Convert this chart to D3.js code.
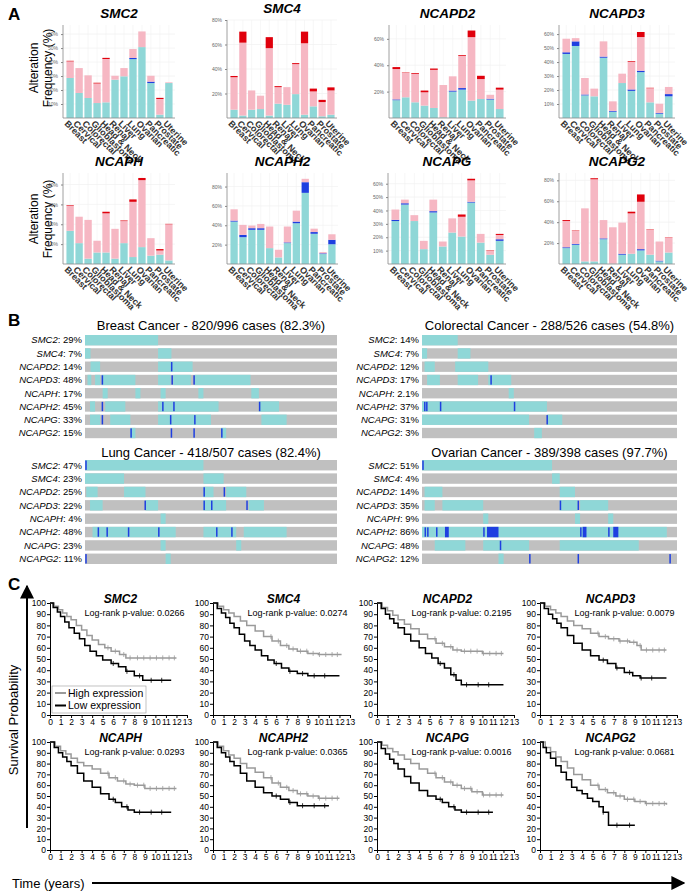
<!DOCTYPE html>
<html><head><meta charset="utf-8">
<script src="https://cdn.jsdelivr.net/npm/d3@7"></script>
<style>body{margin:0;background:#fff}svg{font-family:Arial,"Liberation Sans",sans-serif}</style>
</head><body><svg id="c" width="691" height="895"></svg>
<script>
// ---------------- DATA ----------------
const cancers = ["Breast","Cervical","Colorectal","Glioblastoma","Head & Neck","Renal","Liver","Lung","Ovarian","Pancreatic","Prostate","Uterine"];
const altTypes = ["mRNA Low","Deep Deletion","mRNA High","Amplification"];
// segment heights per cancer: [cyan, blue, pink, red] (%)
const altSMC2   = [[28.6,0,11.9,0.4],[17.9,0,17.8,0],[14.3,0,16.2,0],[10.7,0,14.0,0.5],[11.2,0,31.0,0.8],[27.4,0,2.8,0],[29.8,0,5.9,0],[42.1,0.8,6.4,0],[50.7,0,11.2,0],[25,1,4.2,0],[2.4,0,11.2,0.8],[25,0,0.5,0]];
const altSMC4   = [[6.8,0,26.5,1],[2,0,59.5,9],[6.8,0,15.7,0],[7.3,0,10.9,0],[2,0,55,9],[11.7,0,13.5,0.8],[10.8,0,14.4,0],[19.5,0,24.5,0.8],[2.7,0,58.3,9.5],[9.5,0,12.2,2.3],[1.4,0,11.6,1.8],[2.7,0,19.8,2.5]];
const altNCAPD2 = [[13.5,0.6,23,1.5],[15.7,0,18.5,0.3],[11.9,0,21.5,0.6],[9.4,0,10.1,1.3],[7.6,0,28.9,1],[0.5,0,24.5,0],[20,0.8,10.8,0],[21.5,1.2,24.3,0.6],[13.2,0,48.1,5],[14.4,0,15.1,2.5],[14,0.6,3,0],[6.8,0,14.7,1.5]];
const altNCAPD3 = [[45.8,1.2,9.7,0],[51.5,3.3,2.3,0],[16.2,0.6,11.8,0],[15.5,0,5.5,0],[43.1,0.8,10.9,0],[4.5,0.6,6.8,0],[25,0,6.7,0],[19.4,1,19.7,0.5],[32.8,1,24.1,3.6],[11.2,0,10.1,0.3],[3.1,0.5,6.6,0],[15.5,1.6,5.1,0]];
const altNCAPH  = [[16.7,0,12.6,0.3],[10.5,0,13.3,0],[2.7,0,19.5,0],[5.8,0,5.9,0],[5.8,0,19.7,0.8],[2.7,0,15,0],[10.5,0,11.1,0.3],[3.5,0,27.8,1.2],[8.5,0,33.7,1.1],[4.2,0,8.8,0],[4.7,0,2.1,0.7],[1.8,0,18.2,0.2]];
const altNCAPH2 = [[43.8,1,11.7,0],[27.7,2.4,10.3,0],[35.3,1.7,2.7,0],[35.3,1.7,4.4,0],[16.4,0,22.3,0],[6.8,0,7.9,0],[21.6,0.7,16.4,0],[42.1,1.7,11.3,0],[73.5,11,3.5,0],[31.2,1.8,3.5,0],[10.3,0.7,1.3,0],[20.4,4.6,5.7,0]];
const altNCAPG  = [[32.1,0.9,7.7,0],[44.4,1,2.7,0],[32.1,0,4.4,0],[11.1,0,6.2,0],[38.5,1,8.6,0],[13.1,0,3.7,0],[23.5,0,10.6,0],[20.5,0,14.8,1.7],[45.9,0.6,16,1.2],[16,0,6.5,0],[6.9,0,3,0.3],[17.3,1.2,3.2,0.8]];
const altNCAPG2 = [[15.2,0.8,25.1,0.9],[18.4,0.8,12.4,0.4],[2.5,0,50.7,0],[2.5,0,78.5,1],[23.7,0.8,17.5,0],[0.3,0,34.8,0],[8.9,0.9,29.8,0],[9.8,0,38.6,1.6],[13,1.2,45.3,7],[8.9,0,23.7,0.4],[2.5,0.7,18.3,0],[11,0,14.3,0.3]];

// Oncoprint: per-gene pct, cyan segments & blue marks (fraction of cases)
const oncoGenes = ["SMC2","SMC4","NCAPD2","NCAPD3","NCAPH","NCAPH2","NCAPG","NCAPG2"];
const breastPct = ["29%","7%","14%","48%","17%","45%","33%","15%"];
const breastCyan = [[[0,0.29]],[[0,0.022],[0.29,0.343]],[[0.022,0.06],[0.29,0.427]],[[0.01,0.025],[0.04,0.06],[0.066,0.2],[0.29,0.34],[0.35,0.42],[0.436,0.657]],[[0.07,0.09],[0.2,0.22],[0.3,0.32],[0.45,0.47],[0.66,0.69]],[[0.02,0.04],[0.08,0.16],[0.29,0.53],[0.69,0.77]],[[0.02,0.06],[0.1,0.18],[0.29,0.5],[0.7,0.8]],[[0.18,0.2],[0.54,0.56]]];
const breastBlue = [[],[],[0.341],[0.066,0.343,0.43],[],[0.066,0.306,0.35,0.69],[0.066,0.337,0.433],[0.18,0.34,0.43,0.54]];
const crcPct = ["14%","7%","12%","17%","2.1%","37%","31%","3%"];
const crcCyan = [[[0,0.14]],[[0,0.02],[0.14,0.19]],[[0.01,0.05],[0.13,0.26]],[[0.02,0.07],[0.14,0.22],[0.26,0.35]],[[0.34,0.36]],[[0,0.49]],[[0,0.42],[0.49,0.55]],[[0.44,0.47]]];
const crcBlue = [[],[],[],[0.268],[],[0.008,0.016,0.07,0.36],[0.488],[]];
const lungPct = ["47%","23%","25%","22%","4%","48%","23%","11%"];
const lungCyan = [[[0,0.47]],[[0,0.155],[0.47,0.55]],[[0.005,0.05],[0.155,0.24],[0.47,0.51],[0.56,0.64]],[[0.02,0.07],[0.24,0.29],[0.47,0.56],[0.65,0.71]],[[0.3,0.32]],[[0.03,0.36],[0.47,0.6],[0.63,0.8]],[[0.3,0.32],[0.6,0.62]],[[0.32,0.34]]];
const lungBlue = [[0.001],[],[0.47,0.55],[0.236,0.47,0.5,0.64],[],[0.05,0.085,0.17,0.29,0.52,0.58],[],[0.001]];
const ovPct = ["51%","4%","14%","35%","9%","86%","48%","12%"];
const ovCyan = [[[0,0.51]],[[0.51,0.54]],[[0.01,0.08],[0.54,0.6]],[[0.01,0.05],[0.08,0.24],[0.54,0.61],[0.62,0.73]],[[0.24,0.26],[0.6,0.62],[0.73,0.75]],[[0,0.96]],[[0.05,0.17],[0.24,0.42],[0.54,0.85]],[[0.3,0.32]]];
const ovBlue = [[0.001],[],[],[0.54,0.61],[],[0.01,0.02,0.055,[0.09,0.105],0.24,[0.255,0.3],0.62,[0.63,0.645],0.73,[0.75,0.77]],[0.305],[0.42,0.61,0.97]];

// KM curves [time(years), survival %]
const kmTicks = [0,10,20,30,40,50,60,70,80,90,100];
const kmTime = [0,1,2,3,4,5,6,7,8,9,10,11,12,13];
const smc2High = [[0,100],[0.4,97],[0.8,94],[1.2,91],[1.6,88],[2,85],[2.5,80],[3,76],[3.5,71],[4,67],[4.6,63],[5.2,60],[5.8,57],[6.6,54],[7.2,51],[12,51]];
const smc2Low  = [[0,100],[0.3,96],[0.7,92],[1,88],[1.4,83],[1.8,78],[2.3,73],[2.8,68],[3.3,62],[3.8,57],[4.4,53],[5,49],[5.8,46],[6.5,43],[7.2,39],[8,35],[8.8,31],[11.5,31]];
const smc4High = [[0,100],[0.5,97],[1,94],[1.5,91],[2,88],[2.6,84],[3.2,80],[4,75],[4.8,70],[5.6,66],[6.4,62],[7.2,59],[8,57],[9,55],[10,54],[12.2,54]];
const smc4Low  = [[0,100],[0.4,95],[0.8,91],[1.2,87],[1.6,82],[2,78],[2.5,72],[3,66],[3.5,62],[4,58],[4.6,53],[5.2,49],[5.8,46],[6.5,42],[7.2,39],[8,37],[9,35],[12,35]];
const ncapd2High = [[0,100],[0.5,96],[1,93],[1.5,89],[2,85],[2.6,81],[3.2,77],[4,72],[4.8,68],[5.6,64],[6.4,61],[7.2,58],[8,57],[10,55],[12,55]];
const ncapd2Low  = [[0,100],[0.4,95],[0.8,90],[1.2,86],[1.6,82],[2,78],[2.6,72],[3.2,66],[4,60],[4.6,55],[5.2,51],[5.8,46],[6.4,42],[7,36],[7.5,31],[8,27],[12,27]];
const ncapd3High = [[0,100],[0.5,97],[1,94],[1.5,91],[2,88],[2.6,84],[3.2,80],[4,77],[4.8,73],[5.6,70],[6.5,68],[7.5,66],[8.5,65],[9.2,62],[9.6,58],[12,58]];
const ncapd3Low  = [[0,100],[0.4,95],[0.8,90],[1.2,86],[1.6,82],[2,78],[2.6,71],[3.2,64],[4,58],[4.8,53],[5.6,49],[6.4,46],[7.2,42],[8,38],[8.8,35],[9.5,33],[12,33]];
const ncaphHigh = [[0,100],[0.5,96],[1,92],[1.5,89],[2,85],[2.6,81],[3.2,78],[4,75],[4.8,71],[5.6,67],[6.4,64],[7.2,61],[8,60],[9,57],[12,57]];
const ncaphLow  = [[0,100],[0.4,95],[0.8,90],[1.2,86],[1.6,82],[2,78],[2.6,71],[3.2,64],[4,58],[4.8,52],[5.6,47],[6.2,44],[6.8,40],[7.4,37],[8,35],[11.5,35]];
const ncaph2High = [[0,100],[0.5,96],[1,92],[1.5,88],[2,85],[2.6,80],[3.2,76],[4,72],[4.8,67],[5.6,62],[6.4,58],[7.2,55],[8,52],[9,50],[10,48],[12,48]];
const ncaph2Low  = [[0,100],[0.4,95],[0.8,90],[1.2,86],[1.6,82],[2,78],[2.6,71],[3.2,64],[4,58],[4.8,53],[5.6,50],[6.4,47],[7.2,44],[8,41],[11,41]];
const ncapgHigh = [[0,100],[0.5,97],[1,94],[1.5,91],[2,88],[2.6,84],[3.2,80],[4,75],[4.8,71],[5.6,67],[6.4,63],[7.2,60],[8,57],[9,54],[10,51],[12,51]];
const ncapgLow  = [[0,100],[0.4,94],[0.8,89],[1.2,84],[1.6,80],[2,75],[2.6,68],[3.2,62],[4,55],[4.8,50],[5.6,47],[6.2,44],[6.8,40],[7.4,37],[8,35],[11,35]];
const ncapg2High = [[0,100],[0.5,95],[1,91],[1.5,86],[2,82],[2.6,76],[3.2,70],[4,65],[4.8,60],[5.6,56],[6.4,53],[7.2,50],[8,47],[9,45],[10,43],[12,42]];
const ncapg2Low  = [[0,100],[0.3,95],[0.6,90],[1,85],[1.5,78],[2,72],[2.5,65],[3,58],[3.5,55],[4,52],[4.5,48],[5,45],[5.6,40],[6,35],[6.5,23],[9,23]];
const censorHigh = [5.5,6.2,7,7.6,8.3,8.9,9.5,10.1,10.7,11.3,11.8];
const censorLow  = [6,7.3,8.5,9.6,10.6];

// ---------------- DRAW ----------------
const svg = d3.select("#c");
const C_CYAN="#8fd7d7", C_BLUE="#1f3fe0", C_PINK="#f6b7c3", C_RED="#e0000c", C_GRAY="#c0c0c0";
const segColors=[C_CYAN,C_BLUE,C_PINK,C_RED];

function panelLabel(t,x,y){svg.append("text").attr("x",x).attr("y",y).attr("font-size",17).attr("font-weight","bold").text(t);}
panelLabel("A",8,20); panelLabel("B",8,326); panelLabel("C",8,590);

function drawAlt(gene,data,x0,x1,yTop,yBot,maxV,ticks){
  const g=svg.append("g");
  const x=d3.scaleBand().domain(cancers).range([x0+3,x1-2]).paddingInner(0.18).paddingOuter(0.05);
  const y=d3.scaleLinear().domain([0,maxV]).range([yBot,yTop]);
  g.selectAll(".hg").data(ticks).join("line").attr("x1",x0).attr("x2",x1).attr("y1",d=>y(d)).attr("y2",d=>y(d)).attr("stroke","#eeeeee").attr("stroke-width",0.6);
  g.selectAll(".vg").data(cancers).join("line").attr("x1",d=>x(d)+x.bandwidth()/2).attr("x2",d=>x(d)+x.bandwidth()/2).attr("y1",yTop).attr("y2",yBot).attr("stroke","#f2f2f2").attr("stroke-width",0.6);
  data.forEach((segs,i)=>{
    let acc=0;
    segs.forEach((v,k)=>{ if(v<=0) return;
      g.append("rect").attr("x",x(cancers[i])).attr("width",x.bandwidth())
       .attr("y",y(acc+v)).attr("height",y(acc)-y(acc+v)).attr("fill",segColors[k]);
      acc+=v;});
  });
  const ya=g.append("g").attr("transform",`translate(${x0},0)`).call(d3.axisLeft(y).tickValues(ticks).tickSize(2).tickFormat(d=>d+"%"));
  ya.select(".domain").remove();
  ya.selectAll("text").attr("font-size",5).attr("fill","#666");
  ya.selectAll("line").attr("stroke","#888");
  g.append("line").attr("x1",x0).attr("x2",x0).attr("y1",yTop).attr("y2",yBot).attr("stroke","#888").attr("stroke-width",0.8);
  g.append("line").attr("x1",x0).attr("x2",x1).attr("y1",yBot).attr("y2",yBot).attr("stroke","#888").attr("stroke-width",0.8);
  g.selectAll(".xl").data(cancers).join("text")
    .attr("transform",d=>`translate(${x(d)+x.bandwidth()/2-4},${yBot+4}) rotate(45)`)
    .attr("font-size",9).attr("font-weight","bold").attr("fill","#333").attr("dy","0.35em").text(d=>d);
  g.append("text").attr("x",(x0+x1)/2).attr("y",yTop-7).attr("text-anchor","middle")
    .attr("font-size",13.5).attr("font-weight","bold").attr("font-style","italic").text(gene);
}
function yLab(cy){
  const t=svg.append("text").attr("transform",`translate(38,${cy}) rotate(-90)`).attr("text-anchor","middle").attr("font-size",12);
  t.append("tspan").attr("x",0).attr("dy",0).text("Alteration");
  t.append("tspan").attr("x",0).attr("dy",14).text("Frequency (%)");
}
yLab(68); yLab(219);
drawAlt("SMC2",altSMC2,63,175,25,118,66.5,[10,20,30,40,50,60]);
drawAlt("SMC4",altSMC4,227,337,20,118,80,[20,40,60,80]);
drawAlt("NCAPD2",altNCAPD2,389,506,25,118,70.5,[20,40,60]);
drawAlt("NCAPD3",altNCAPD3,559,675,25,118,66.5,[10,20,30,40,50,60]);
drawAlt("NCAPH",altNCAPH,63,175,173,264,45.8,[10,20,30,40]);
drawAlt("NCAPH2",altNCAPH2,227,338,173,264,94,[20,40,60,80]);
drawAlt("NCAPG",altNCAPG,388,506,173,264,68,[10,20,30,40,50,60]);
drawAlt("NCAPG2",altNCAPG2,559,675,173,264,87,[20,40,60,80]);

// ---- Panel B ----
function drawOnco(title,pcts,cyan,blue,x0,x1,yTitle,yRow0,step){
  const g=svg.append("g");
  const x=d3.scaleLinear().domain([0,1]).range([x0,x1]);
  const y=d3.scaleBand().domain(oncoGenes).range([yRow0,yRow0+step*8]).paddingInner(0.22);
  g.append("text").attr("x",(x0+x1)/2).attr("y",yTitle).attr("text-anchor","middle").attr("font-size",13).text(title);
  oncoGenes.forEach((gn,i)=>{
    const yy=y(gn), h=y.bandwidth();
    g.append("rect").attr("x",x(0)).attr("y",yy).attr("width",x(1)-x(0)).attr("height",h).attr("fill",C_GRAY);
    cyan[i].forEach(s=>g.append("rect").attr("x",x(s[0])).attr("y",yy).attr("width",x(s[1])-x(s[0])).attr("height",h).attr("fill",C_CYAN));
    blue[i].forEach(b=>{
      const s=Array.isArray(b)?b:[b,b];
      const xa=x(s[0]), w=Math.max(1.5,x(s[1])-x(s[0]));
      g.append("rect").attr("x",xa).attr("y",yy+(Array.isArray(b)?0:0.5)).attr("width",w).attr("height",Array.isArray(b)?h:h-1).attr("fill",C_BLUE);
    });
    const t=g.append("text").attr("x",x0-3).attr("y",yy+h/2).attr("dy","0.35em").attr("text-anchor","end").attr("font-size",9.5);
    t.append("tspan").attr("font-style","italic").text(gn);
    t.append("tspan").text(": "+pcts[i]);
  });
}
drawOnco("Breast Cancer - 820/996 cases (82.3%)",breastPct,breastCyan,breastBlue,85,337,330,335,12.9);
drawOnco("Colorectal Cancer - 288/526 cases (54.8%)",crcPct,crcCyan,crcBlue,422,677,330,335,12.9);
drawOnco("Lung Cancer - 418/507 cases (82.4%)",lungPct,lungCyan,lungBlue,85,337,457,460,13);
drawOnco("Ovarian Cancer - 389/398 cases (97.7%)",ovPct,ovCyan,ovBlue,422,677,457,460,13);

// ---- Panel C ----
function survAt(curve,t){let s=curve[0][1];for(const p of curve){if(p[0]<=t)s=p[1];}return s;}
function drawKM(gene,p,x0,yTop,w,h,high,low,legend){
  const g=svg.append("g");
  const x=d3.scaleLinear().domain([0,13]).range([x0,x0+w]);
  const y=d3.scaleLinear().domain([0,100]).range([yTop+h,yTop]);
  const xa=g.append("g").attr("transform",`translate(0,${yTop+h})`).call(d3.axisBottom(x).tickValues(kmTime).tickSize(3).tickPadding(1));
  const ya=g.append("g").attr("transform",`translate(${x0},0)`).call(d3.axisLeft(y).tickValues(kmTicks).tickSize(3).tickPadding(1));
  [xa,ya].forEach(a=>{a.selectAll("text").attr("font-size",8.5).attr("fill","#000");a.select(".domain").attr("stroke","#000");});
  const line=d3.line().x(d=>x(d[0])).y(d=>y(d[1])).curve(d3.curveStepAfter);
  [[high,"#9a9a9a",censorHigh],[low,"#000",censorLow]].forEach(([c,col,cens])=>{
    g.append("path").attr("d",line(c)).attr("fill","none").attr("stroke",col).attr("stroke-width",1.5);
    const tEnd=c[c.length-1][0];
    cens.filter(t=>t<=tEnd).forEach(t=>g.append("line").attr("x1",x(t)).attr("x2",x(t)).attr("y1",y(survAt(c,t))-2.5).attr("y2",y(survAt(c,t))+2.5).attr("stroke",col).attr("stroke-width",0.8));
  });
  g.append("text").attr("x",x0+w/2+2).attr("y",yTop).attr("text-anchor","middle").attr("font-size",12).attr("font-weight","bold").attr("font-style","italic").text(gene);
  g.append("text").attr("x",x0+w/2+16).attr("y",yTop+13).attr("text-anchor","middle").attr("font-size",9).text("Log-rank p-value: "+p);
  if(legend){
    const lg=g.append("g");
    lg.append("rect").attr("x",x0+2).attr("y",yTop+h-29).attr("width",94).attr("height",27).attr("fill","#fff").attr("stroke","#999").attr("stroke-width",0.6);
    [["High expression","#9a9a9a"],["Low expression","#000"]].forEach((d,i)=>{
      const yy=yTop+h-22+i*12.5;
      lg.append("line").attr("x1",x0+5).attr("x2",x0+16).attr("y1",yy).attr("y2",yy).attr("stroke",d[1]).attr("stroke-width",2);
      lg.append("text").attr("x",x0+18).attr("y",yy).attr("dy","0.35em").attr("font-size",10.5).text(d[0]);
    });
  }
}
const kmW=137;
drawKM("SMC2","0.0266",50,603,kmW,112,smc2High,smc2Low,true);
drawKM("SMC4","0.0274",213,603,kmW,112,smc4High,smc4Low,false);
drawKM("NCAPD2","0.2195",377,603,kmW,112,ncapd2High,ncapd2Low,false);
drawKM("NCAPD3","0.0079",540,603,kmW,112,ncapd3High,ncapd3Low,false);
drawKM("NCAPH","0.0293",50,742,kmW,108,ncaphHigh,ncaphLow,false);
drawKM("NCAPH2","0.0365",213,742,kmW,108,ncaph2High,ncaph2Low,false);
drawKM("NCAPG","0.0016",377,742,kmW,108,ncapgHigh,ncapgLow,false);
drawKM("NCAPG2","0.0681",540,742,kmW,108,ncapg2High,ncapg2Low,false);
// overall axes arrows
const defs=svg.append("defs");
defs.append("marker").attr("id","ah").attr("viewBox","0 0 10 10").attr("refX",9).attr("refY",5).attr("markerWidth",7).attr("markerHeight",7).attr("orient","auto")
  .append("path").attr("d","M0,0L10,5L0,10z").attr("fill","#000");
svg.append("line").attr("x1",27).attr("x2",27).attr("y1",828).attr("y2",586).attr("stroke","#000").attr("stroke-width",2).attr("marker-end","url(#ah)");
svg.append("text").attr("transform","translate(18,720) rotate(-90)").attr("text-anchor","middle").attr("font-size",13).text("Survival Probability");
svg.append("text").attr("x",12).attr("y",888).attr("font-size",13).text("Time (years)");
svg.append("line").attr("x1",92).attr("x2",684).attr("y1",883).attr("y2",883).attr("stroke","#000").attr("stroke-width",2).attr("marker-end","url(#ah)");
</script></body></html>
